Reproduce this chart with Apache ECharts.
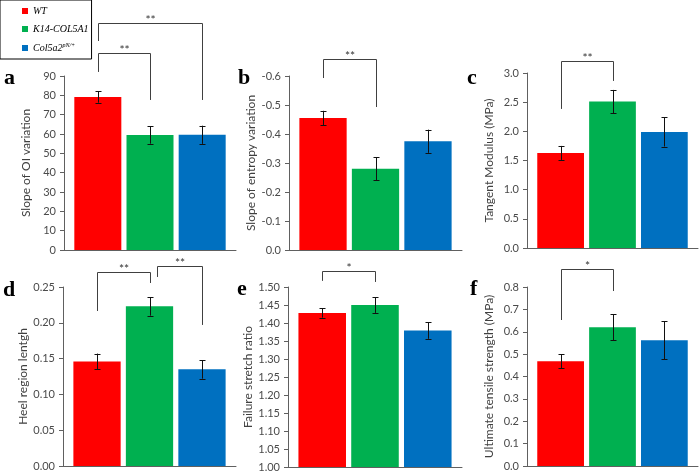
<!DOCTYPE html>
<html><head><meta charset="utf-8">
<script src="https://cdn.jsdelivr.net/npm/echarts@6/dist/echarts.min.js"></script>
<style>html,body{margin:0;padding:0;background:#fff}#c{width:700px;height:476px}</style>
</head><body><div id="c"></div>
<script>
// ---- data ----
const groups = ['WT', 'K14-COL5A1', 'Col5a2pN/+'];
const colors = ['#FF0000', '#00B050', '#0070C0'];

const panelLetters = ['a', 'b', 'c', 'd', 'e', 'f'];
const axisTitles = ['Slope of OI variation', 'Slope of entropy variation', 'Tangent Modulus (MPa)',
  'Heel region lentgh', 'Failure stretch ratio', 'Ultimate tensile strength (MPa)'];

const meansA = [79.2, 59.5, 59.6];   const errA = [3.0, 4.5, 4.7];
const meansB = [-0.455, -0.280, -0.375]; const errB = [0.025, 0.040, 0.040];
const meansC = [1.63, 2.51, 1.99];   const errC = [0.12, 0.20, 0.25];
const meansD = [0.146, 0.223, 0.135]; const errD = [0.011, 0.013, 0.013];
const meansE = [1.428, 1.450, 1.379]; const errE = [0.013, 0.022, 0.023];
const meansF = [0.468, 0.620, 0.562]; const errF = [0.032, 0.058, 0.084];

const axisMin = [0, -0.6, 0, 0, 1.0, 0];
const axisMax = [90, 0, 3.0, 0.25, 1.50, 0.8];
const axisStep = [10, 0.1, 0.5, 0.05, 0.05, 0.1];
const axisDecimals = [0, 1, 1, 2, 2, 1];

// significance brackets: [leftBar, rightBar, top, leftEnd, rightEnd]
const bracketsA = [[0, 2, 117.4, 108.1, 77.6], [0, 1, 101.9, 92.1, 77.6]];
const bracketsB = [[0, 1, -0.659, -0.593, -0.493]];
const bracketsC = [[0, 1, 3.207, 2.384, 2.864]];
const bracketsD = [[0, 1, 0.271, 0.2165, 0.2556], [1.15, 2, 0.2793, 0.264, 0.197]];
const bracketsE = [[0, 1, 1.544, 1.517, 1.514]];
const bracketsF = [[0, 1, 0.880, 0.6525, 0.782]];
const starsA = ['**', '**']; const starsB = ['**']; const starsC = ['**'];
const starsD = ['**', '**']; const starsE = ['*']; const starsF = ['*'];

// ---- layout ----
const grids = [
  {left: 64, top: 76, width: 172, height: 174},
  {left: 289, top: 76, width: 173, height: 174},
  {left: 527, top: 73, width: 171, height: 175},
  {left: 63, top: 287, width: 173, height: 179},
  {left: 288, top: 287, width: 174, height: 180},
  {left: 527, top: 287, width: 171, height: 179}
];
const letterPos = [[4, 78], [238, 78], [467, 78], [3, 290], [237, 289], [470, 289]];

const means = [meansA, meansB, meansC, meansD, meansE, meansF];
const errs = [errA, errB, errC, errD, errE, errF];
const brackets = [bracketsA, bracketsB, bracketsC, bracketsD, bracketsE, bracketsF];
const stars = [starsA, starsB, starsC, starsD, starsE, starsF];

const BCG = 0.12, BG = 0.11;
const axisColor = '#606060';

function barGeom(api) {
  const cat = api.size([1, 0])[0];
  const bw = cat * (1 - BCG) / (3 + 2 * BG);
  return {bw: bw, step: bw * (1 + BG), c: api.coord([0, 0])[0]};
}

const xAxes = [], yAxes = [], series = [];
for (let k = 0; k < 6; k++) {
  xAxes.push({
    gridIndex: k, type: 'category', data: [''],
    axisLine: {lineStyle: {color: axisColor, width: 1}},
    axisTick: {show: false}, axisLabel: {show: false}
  });
  const dec = axisDecimals[k];
  yAxes.push({
    gridIndex: k, type: 'value', min: axisMin[k], max: axisMax[k], interval: axisStep[k],
    inverse: k === 1,
    name: axisTitles[k], nameLocation: 'middle', nameGap: 32,
    nameTextStyle: {fontFamily: 'Lato', fontSize: 12, color: '#404040'},
    axisLine: {show: true, lineStyle: {color: axisColor, width: 1}},
    axisTick: {show: true, length: 4, lineStyle: {color: axisColor}},
    splitLine: {show: false},
    axisLabel: {
      margin: 8, fontFamily: 'Lato', fontSize: 11, color: '#4a4a4a',
      formatter: v => (Math.abs(v) < 1e-9 ? 0 : v).toFixed(dec)
    }
  });
  for (let i = 0; i < 3; i++) {
    series.push({
      type: 'bar', name: groups[i], xAxisIndex: k, yAxisIndex: k,
      data: [means[k][i]], barGap: (BG * 100) + '%', barCategoryGap: (BCG * 100) + '%',
      itemStyle: {color: colors[i]}, emphasis: {disabled: true}, silent: true
    });
  }
  const kk = k;
  series.push({
    type: 'custom', xAxisIndex: k, yAxisIndex: k, silent: true, z: 5,
    data: means[k].map((m, i) => [0, m - errs[k][i], m + errs[k][i]]),
    renderItem: function (params, api) {
      const g = barGeom(api);
      const x = Math.round(g.c + (params.dataIndex - 1) * g.step) + 0.5;
      const y1 = api.coord([0, api.value(1)])[1];
      const y2 = api.coord([0, api.value(2)])[1];
      const st = {stroke: '#111', lineWidth: 1};
      return {type: 'group', children: [
        {type: 'line', shape: {x1: x, y1: y1, x2: x, y2: y2}, style: st},
        {type: 'line', shape: {x1: x - 3, y1: Math.round(y1) + 0.5, x2: x + 3, y2: Math.round(y1) + 0.5}, style: st},
        {type: 'line', shape: {x1: x - 3, y1: Math.round(y2) + 0.5, x2: x + 3, y2: Math.round(y2) + 0.5}, style: st}
      ]};
    }
  });
  series.push({
    type: 'custom', xAxisIndex: k, yAxisIndex: k, silent: true, z: 5, clip: false,
    data: brackets[k].map(b => [0].concat(b)),
    renderItem: function (params, api) {
      const g = barGeom(api);
      const xl = Math.round(g.c + (api.value(1) - 1) * g.step) + 0.5;
      const xr = Math.round(g.c + (api.value(2) - 1) * g.step) + 0.5;
      const yt = Math.round(api.coord([0, api.value(3)])[1]) + 0.5;
      const yl = api.coord([0, api.value(4)])[1];
      const yr = api.coord([0, api.value(5)])[1];
      return {type: 'group', children: [
        {type: 'polyline', shape: {points: [[xl, yl], [xl, yt], [xr, yt], [xr, yr]]},
          style: {stroke: '#404040', fill: null, lineWidth: 1}},
        {type: 'text', style: {text: stars[kk][params.dataIndex], x: (xl + xr) / 2, y: yt + 3,
          align: 'center', verticalAlign: 'bottom', font: '12px Lato', fill: '#333'}}
      ]};
    }
  });
}

const option = {
  animation: false,
  backgroundColor: '#fff',
  grid: grids,
  xAxis: xAxes,
  yAxis: yAxes,
  legend: {
    data: groups, orient: 'vertical', left: 0, top: 0,
    icon: 'rect', itemWidth: 6, itemHeight: 6, itemGap: 8,
    padding: [6, 3, 6, 22], borderColor: '#000', borderWidth: 1,
    selectedMode: false,
    formatter: function (n) {
      if (n === 'Col5a2pN/+') return '{it|Col5a2}{sup|pN/+}';
      return '{it|' + n + '}';
    },
    textStyle: {
      padding: [0, 0, 0, 0],
      rich: {
        it: {fontFamily: 'Liberation Serif', fontStyle: 'italic', fontSize: 10, color: '#000', lineHeight: 12},
        sup: {fontFamily: 'Liberation Serif', fontStyle: 'italic', fontSize: 6, color: '#000', verticalAlign: 'top', lineHeight: 12}
      }
    }
  },
  graphic: panelLetters.map((t, i) => ({
    type: 'text', x: letterPos[i][0], y: letterPos[i][1],
    style: {text: t, font: 'bold 22px "Liberation Serif"', fill: '#000', verticalAlign: 'middle'}
  })),
  series: series
};
const chart = echarts.init(document.getElementById('c'), null, {renderer: 'canvas'});
chart.setOption(option);
</script></body></html>
